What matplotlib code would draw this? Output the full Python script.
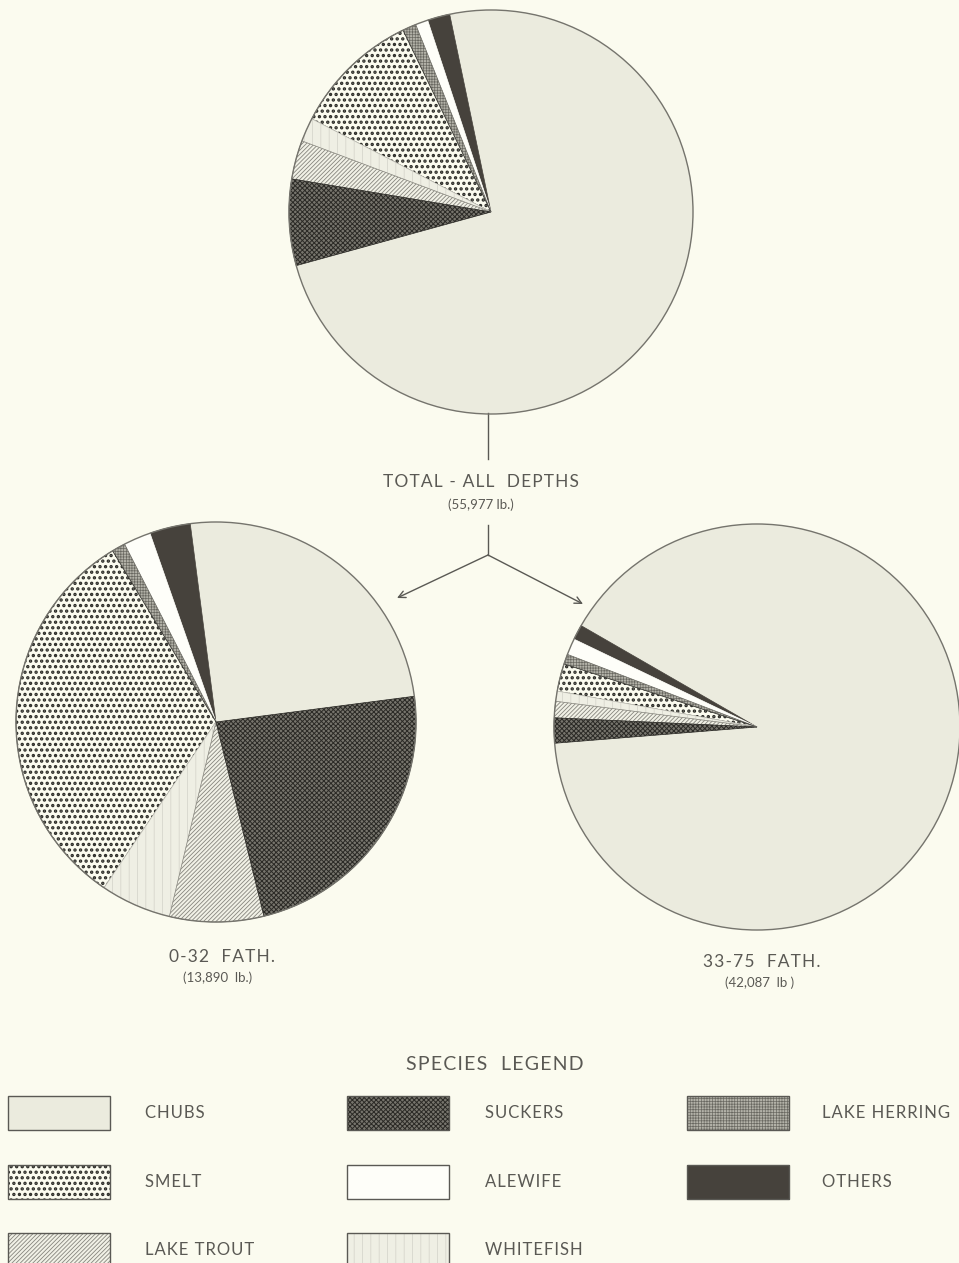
import matplotlib
matplotlib.use("Agg")
import matplotlib.pyplot as plt
from matplotlib.patches import Circle, Rectangle

W, H = 959, 1263

# wedge order, going counter-clockwise from the chubs wedge
species = ["CHUBS", "OTHERS", "ALEWIFE", "LAKE HERRING", "SMELT",
           "WHITEFISH", "LAKE TROUT", "SUCKERS"]

# percent of catch weight
total_pct = [74.0, 1.8, 1.0, 1.1, 10.2, 1.9, 3.1, 6.9]
shallow_pct = [25.0, 3.3, 2.2, 1.1, 31.9, 5.7, 7.6, 23.2]
deep_pct = [90.4, 1.2, 1.3, 0.8, 2.2, 0.8, 1.3, 2.0]

total_title = "TOTAL - ALL  DEPTHS"
total_lb = "(55,977 lb.)"
shallow_title = "0-32  FATH."
shallow_lb = "(13,890  lb.)"
deep_title = "33-75  FATH."
deep_lb = "(42,087  lb )"

legend_rows = [["CHUBS", "SUCKERS", "LAKE HERRING"],
               ["SMELT", "ALEWIFE", "OTHERS"],
               ["LAKE TROUT", "WHITEFISH"]]

BG = "#fbfbef"
INK = "#5a5954"
FONT = ["Lato", "DejaVu Sans"]

# face, hatch colour, hatch, hatch linewidth
styles = {
    "CHUBS": ("#ebebde", "#ebebde", None, 1.0),
    "SUCKERS": ("#77756d", "#2b2a26", "xxxxxxx", 0.7),
    "LAKE HERRING": ("#b3b2a8", "#6a6962", "++++++", 0.5),
    "SMELT": ("#fbfbef", "#2a2a26", "...", 1.6),
    "ALEWIFE": ("#fefef9", "#fefef9", None, 1.0),
    "OTHERS": ("#46423c", "#46423c", None, 1.0),
    "LAKE TROUT": ("#f1f1e6", "#86857d", "////////", 0.6),
    "WHITEFISH": ("#efefe4", "#d2d1c8", "||", 0.5),
}


def spaced(s):
    return "\u200a".join(s)


def style_patch(p, name):
    face, hc, hatch, hlw = styles[name]
    p.set_facecolor(face)
    p.set_edgecolor(hc)
    if hatch:
        p.set_hatch(hatch)
        if hasattr(p, "set_hatch_linewidth"):
            p.set_hatch_linewidth(hlw)


def draw_pie(ax, pct, center, radius, start):
    wedges, _ = ax.pie(pct, startangle=start, counterclock=True, center=center,
                       radius=radius, frame=True, wedgeprops=dict(linewidth=0.5))
    for w, name in zip(wedges, species):
        style_patch(w, name)
    ax.add_patch(Circle(center, radius, fill=False, edgecolor="#75746d",
                        linewidth=1.0, zorder=3))


def main():
    fig = plt.figure(figsize=(W / 100, H / 100), dpi=100)
    fig.patch.set_facecolor(BG)
    ax = fig.add_axes([0, 0, 1, 1])
    ax.set_facecolor(BG)

    draw_pie(ax, total_pct, (491, 1051), 202, 195.4)
    draw_pie(ax, shallow_pct, (216, 541), 200, 7.4)
    draw_pie(ax, deep_pct, (757, 536), 203, 184.6)

    # connector from total pie down to the two depth pies
    ax.plot([488, 488], [850, 804], color=INK, lw=1)
    ax.plot([488, 488], [738, 708], color=INK, lw=1)
    for tip in [(397, 665), (583, 659)]:
        ax.annotate("", xy=tip, xytext=(488, 708),
                    arrowprops=dict(arrowstyle="->,head_length=0.5,head_width=0.25",
                                    color=INK, lw=1, shrinkA=0, shrinkB=0))

    ax.text(481, 781, spaced(total_title), ha="center", va="center",
            fontsize=12.5, color=INK, family=FONT)
    ax.text(481, 758, total_lb, ha="center", va="center",
            fontsize=9.5, color=INK, family=FONT)
    ax.text(222, 306, spaced(shallow_title), ha="center", va="center",
            fontsize=12.5, color=INK, family=FONT)
    ax.text(218, 285, shallow_lb, ha="center", va="center",
            fontsize=9.5, color=INK, family=FONT)
    ax.text(762, 301, spaced(deep_title), ha="center", va="center",
            fontsize=12.5, color=INK, family=FONT)
    ax.text(760, 280, deep_lb, ha="center", va="center",
            fontsize=9.5, color=INK, family=FONT)

    # species legend
    ax.text(495, 199, spaced("SPECIES  LEGEND"), ha="center", va="center",
            fontsize=14, color=INK, family=FONT)
    box_x = [8, 347, 687]
    text_x = [145, 485, 822]
    row_y = [150, 81, 13]
    for r, row in enumerate(legend_rows):
        for c, name in enumerate(row):
            rect = Rectangle((box_x[c], row_y[r] - 17), 102, 34, linewidth=0.5)
            style_patch(rect, name)
            ax.add_patch(rect)
            ax.add_patch(Rectangle((box_x[c], row_y[r] - 17), 102, 34, fill=False,
                                   edgecolor="#5a5954", linewidth=1.0))
            ax.text(text_x[c], row_y[r], spaced(name), ha="left", va="center",
                    fontsize=12, color=INK, family=FONT)

    ax.set_xlim(0, W)
    ax.set_ylim(0, H)
    ax.axis("off")
    fig.savefig("out.png", dpi=100, facecolor=BG)


if __name__ == "__main__":
    main()
